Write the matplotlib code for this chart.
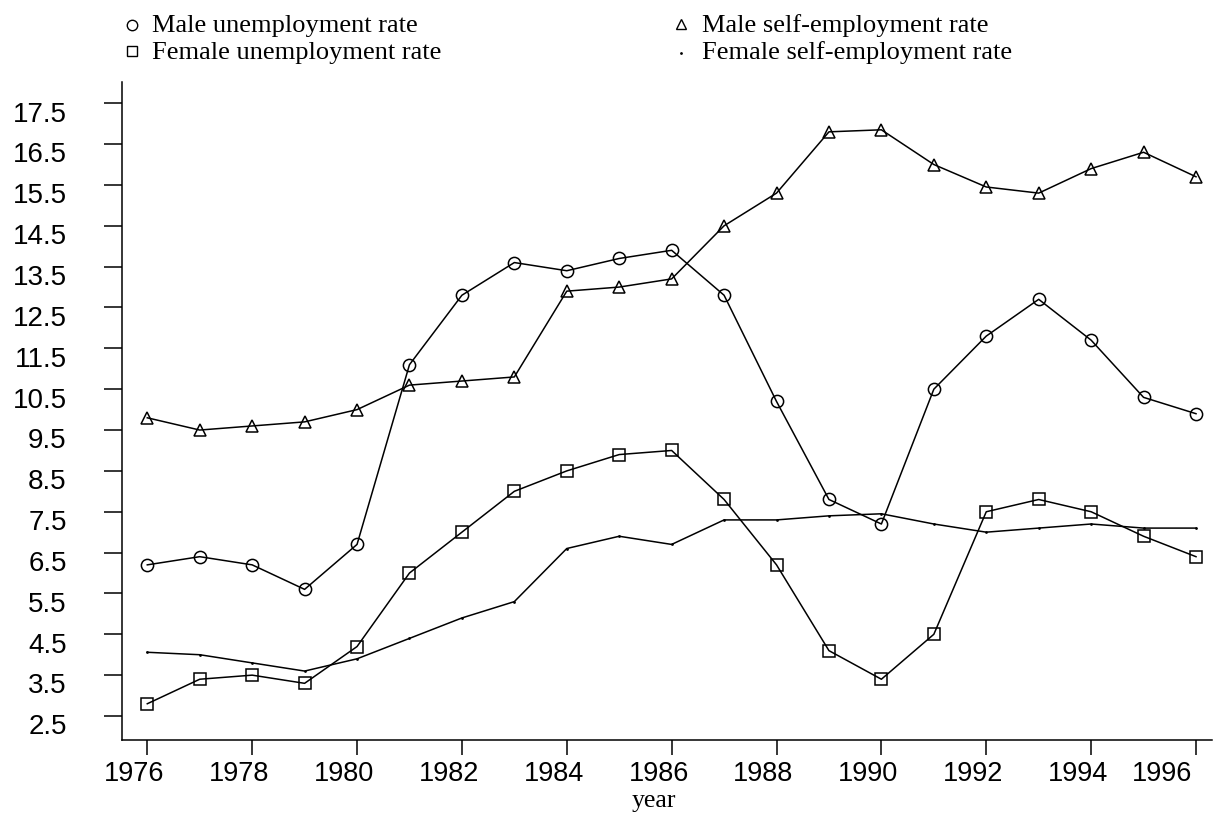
import numpy as np
import matplotlib
matplotlib.use("Agg")
import matplotlib.pyplot as plt
from matplotlib.lines import Line2D
from matplotlib.transforms import ScaledTranslation

# ---- data -------------------------------------------------------------
years = list(range(1976, 1997))
male_unemp = [6.2, 6.4, 6.2, 5.6, 6.7, 11.1, 12.8, 13.6, 13.4, 13.7, 13.9,
              12.8, 10.2, 7.8, 7.2, 10.5, 11.8, 12.7, 11.7, 10.3, 9.9]
female_unemp = [2.8, 3.4, 3.5, 3.3, 4.2, 6.0, 7.0, 8.0, 8.5, 8.9, 9.0,
                7.8, 6.2, 4.1, 3.4, 4.5, 7.5, 7.8, 7.5, 6.9, 6.4]
male_self = [9.8, 9.5, 9.6, 9.7, 10.0, 10.6, 10.7, 10.8, 12.9, 13.0, 13.2,
             14.5, 15.3, 16.8, 16.85, 16.0, 15.45, 15.3, 15.9, 16.3, 15.7]
female_self = [4.06, 4.0, 3.8, 3.6, 3.9, 4.4, 4.9, 5.3, 6.6, 6.9, 6.7,
               7.3, 7.3, 7.4, 7.45, 7.2, 7.0, 7.1, 7.2, 7.1, 7.1]

y_ticks = [2.5 + i for i in range(16)]
x_ticks = list(range(1976, 1997, 2))

labels = ["Male unemployment rate", "Female unemployment rate",
          "Male self-employment rate", "Female self-employment rate"]

# ---- figure -----------------------------------------------------------
W, H = 1214, 813
fig = plt.figure(figsize=(W / 100, H / 100), dpi=100)
ax = fig.add_axes([121.7 / W, 1 - 740 / H, (1212 - 121.7) / W, (740 - 82) / H])

lw = 1.1
style = dict(color="black", lw=lw, mec="black", mfc="none", mew=lw)
ax.plot(years, male_unemp, marker="o", ms=8.8, **style)
ax.plot(years, female_unemp, marker="s", ms=8.0, **style)
ax.plot(years, male_self, marker="^", ms=8.8, **style)
ax.plot(years, female_self, marker=".", ms=1.8, **style)

ax.set_xlim(1975.512, 1996.305)
ax.set_ylim(1.9125, 18.02)

for s in ("top", "right"):
    ax.spines[s].set_visible(False)
for s in ("left", "bottom"):
    ax.spines[s].set_linewidth(1.1)

sans = "Liberation Sans"
serif = "Liberation Serif"

ax.set_yticks(y_ticks)
ax.set_yticklabels([f"{v:.1f}" for v in y_ticks], fontfamily=sans, fontsize=20)
ax.set_xticks(x_ticks)
ax.set_xticklabels([str(v) for v in x_ticks], fontfamily=sans, fontsize=19.5)
ax.tick_params(axis="y", direction="out", length=13, width=1.1, pad=26.5)
ax.tick_params(axis="x", direction="out", length=10.8, width=1.1, pad=4)

# nudge tick labels: y labels sit a little below their ticks, x labels a little left
for lab in ax.get_yticklabels():
    lab.set_transform(lab.get_transform() +
                      ScaledTranslation(0, -6 / 72, fig.dpi_scale_trans))
xlabs = ax.get_xticklabels()
for i, lab in enumerate(xlabs):
    dx = -24.5 if i == len(xlabs) - 1 else -9.4
    lab.set_transform(lab.get_transform() +
                      ScaledTranslation(dx / 72, 0, fig.dpi_scale_trans))

fig.text(654 / W, 1 - 806.7 / H, "year", fontfamily=serif, fontsize=18.5,
         ha="center", va="baseline")

# ---- key ----------------------------------------------------------------
key = [
    (131.6, 25, "o", 7.5, labels[0], 152.5, 32.3),
    (131.6, 51, "s", 7.0, labels[1], 152.5, 59.3),
    (681.0, 24, "^", 7.5, labels[2], 702.0, 32.3),
    (681.0, 53, ".", 2.0, labels[3], 702.0, 59.3),
]
for mx, my, mk, ms, txt, tx, ty in key:
    fig.add_artist(Line2D([mx / W], [1 - my / H], transform=fig.transFigure,
                          marker=mk, ms=ms, mfc="none", mec="black", mew=1.0,
                          linestyle="none"))
    fig.text(tx / W, 1 - ty / H, txt, fontfamily=serif, fontsize=19,
             ha="left", va="baseline")

fig.savefig("out.png", dpi=100)
